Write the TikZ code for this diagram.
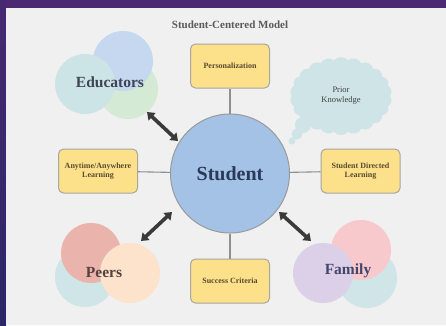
\documentclass[tikz,border=0pt]{standalone}
\usepackage{fontspec}
\setmainfont{Liberation Serif}
\usetikzlibrary{arrows.meta,shapes.symbols}
\definecolor{panel}{HTML}{EFF0EF}
\definecolor{bandtop}{HTML}{4B2A72}
\definecolor{bandleft}{HTML}{2B2668}
\definecolor{boxfill}{HTML}{FCE08A}
\definecolor{boxline}{HTML}{A8A6A0}
\definecolor{conn}{HTML}{8F8F8F}
\definecolor{stufill}{HTML}{A3C2E6}
\definecolor{stuline}{HTML}{9A9A9A}
\definecolor{arrowc}{HTML}{3A3A3A}
\definecolor{cloudc}{HTML}{CFE4E7}
\definecolor{eduB}{HTML}{C5D8EF}
\definecolor{eduT}{HTML}{CCE4E6}
\definecolor{eduG}{HTML}{D5EAD5}
\definecolor{peR}{HTML}{EAB3AB}
\definecolor{peT}{HTML}{CFE5E8}
\definecolor{peP}{HTML}{FDE3CB}
\definecolor{faP}{HTML}{F7C9CC}
\definecolor{faT}{HTML}{CFE5E8}
\definecolor{faL}{HTML}{DCD0E8}
\definecolor{boxtext}{HTML}{5A4A30}
\definecolor{titletext}{HTML}{5A5A5A}
\definecolor{edutext}{HTML}{3E4456}
\definecolor{peerstext}{HTML}{554040}
\definecolor{familytext}{HTML}{45456A}
\definecolor{priortext}{HTML}{3F3F3F}
\definecolor{stutext}{HTML}{2C3A5A}
\tikzset{
  stepbox/.style={draw=boxline, line width=1pt, fill=boxfill, rounded corners=5pt,
    minimum width=79pt, minimum height=44pt, inner sep=1pt, align=center,
    font=\fontsize{8}{9}\selectfont\bfseries, text=boxtext},
  blob/.style={circle, minimum size=60pt, inner sep=0pt},
  conline/.style={draw=conn, line width=1.1pt},
  bigarrow/.style={draw=arrowc, line width=3.6pt, {Triangle[width=10pt,length=7pt]}-{Triangle[width=10pt,length=7pt]}},
  grouplabel/.style={font=\fontsize{15.5}{15.5}\selectfont\bfseries}
}
\begin{document}
\begin{tikzpicture}[x=1pt,y=-1pt]
\useasboundingbox (0,0) rectangle (446,325);
% frame
\fill[bandtop] (0,0) rectangle (446,325);
\shade[top color=bandtop!85!bandleft, bottom color=bandleft] (0,0) rectangle (6,325);
\fill[panel] (6,8) rectangle (446,325);
% title
\node[font=\fontsize{11}{11}\selectfont\bfseries, text=titletext] (title) at (230,25) {Student-Centered Model};
% educators cluster
\node[blob, fill=eduG] (eduG) at (128,89) {};
\node[blob, fill=eduB] (eduB) at (123,61) {};
\node[blob, fill=eduT] (eduT) at (85,84) {};
\node[grouplabel, text=edutext] (edu) at (110,82) {Educators};
% peers cluster
\node[blob, fill=peT] (peT) at (85,277) {};
\node[blob, fill=peR] (peR) at (91,253) {};
\node[blob, fill=peP] (peP) at (130,273) {};
\node[grouplabel, text=peerstext] (peers) at (104,272) {Peers};
% family cluster
\node[blob, fill=faT] (faT) at (367,278) {};
\node[blob, fill=faP] (faP) at (361,250) {};
\node[blob, fill=faL] (faL) at (323,273) {};
\node[grouplabel, text=familytext] (family) at (348,271) {Family};
% cloud
\fill[cloudc] (303,125) circle (8pt);
\fill[cloudc] (297,134) circle (5.5pt);
\fill[cloudc] (292,141) circle (3.5pt);
\node[cloud, cloud puffs=22, cloud puff arc=100, aspect=1.3, fill=cloudc,
  minimum width=102pt, minimum height=78pt, align=center,
  font=\fontsize{8.5}{10}\selectfont, text=priortext] (prior) at (341,96) {Prior\\Knowledge};
% student
\node[circle, draw=stuline, line width=1pt, fill=stufill, minimum size=119pt, inner sep=0pt,
  font=\fontsize{20}{20}\selectfont\bfseries, text=stutext] (stu) at (230,173.5) {Student};
% boxes
\node[stepbox] (pers) at (230,66) {Personalization};
\node[stepbox] (any) at (98,171) {Anytime/Anywhere\\Learning};
\node[stepbox] (sdl) at (360.5,171) {Student Directed\\Learning};
\node[stepbox] (succ) at (230,281) {Success Criteria};
% connectors
\draw[conline] (pers) -- (stu);
\draw[conline] (any) -- (stu);
\draw[conline] (sdl) -- (stu);
\draw[conline] (succ) -- (stu);
% arrows
\coordinate (aE1) at (147,112);
\coordinate (aE2) at (178,141);
\coordinate (aP1) at (172,212);
\coordinate (aP2) at (141,241);
\coordinate (aF1) at (279,212);
\coordinate (aF2) at (311,241);
\draw[bigarrow] (aE1) -- (aE2);
\draw[bigarrow] (aP1) -- (aP2);
\draw[bigarrow] (aF1) -- (aF2);
\end{tikzpicture}
\end{document}
